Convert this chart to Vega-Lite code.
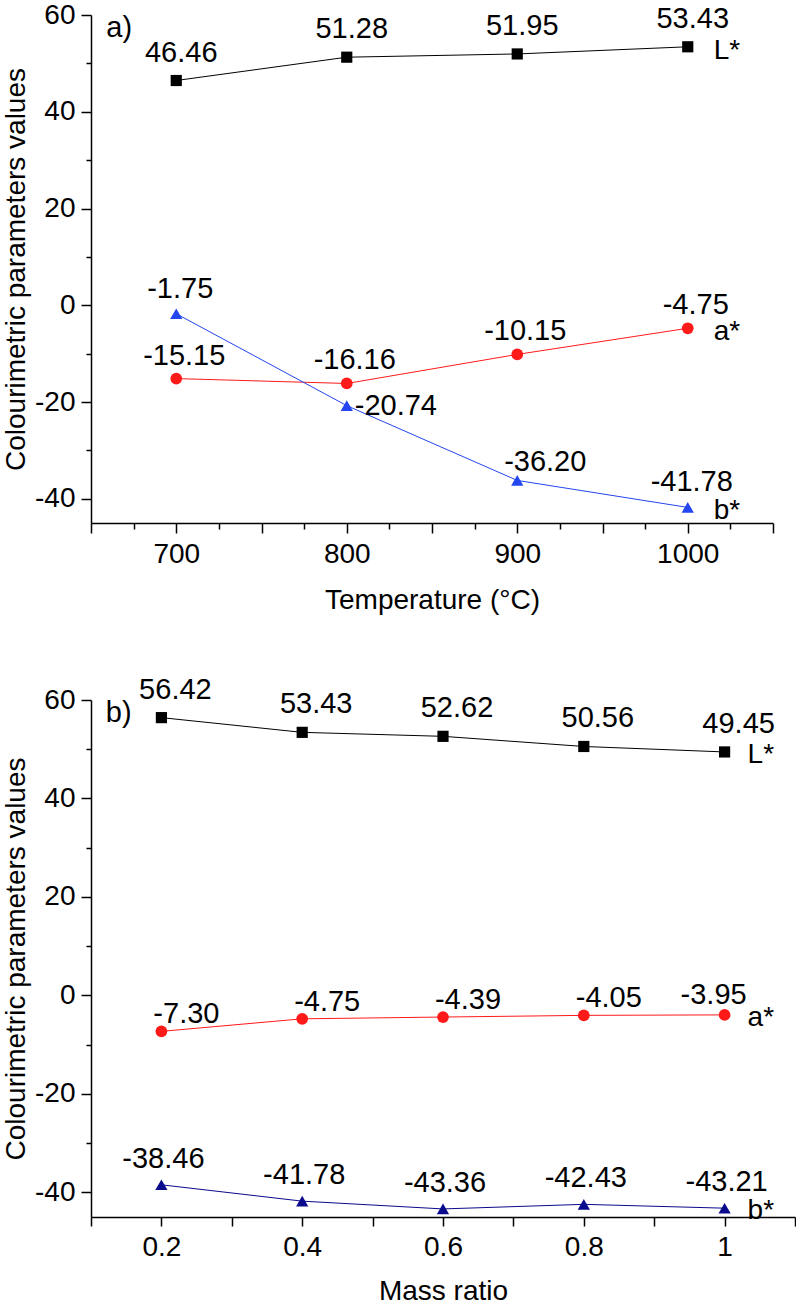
{
  "$schema": "https://vega.github.io/schema/vega-lite/v6.json",
  "padding": {"left": 2, "top": 1, "right": 0, "bottom": 0},
  "background": "white",
  "spacing": 177,
  "bounds": "flush",
  "datasets": {
    "temp": [
      {"T": 700, "series": "L*", "v": 46.46},
      {"T": 800, "series": "L*", "v": 51.28},
      {"T": 900, "series": "L*", "v": 51.95},
      {"T": 1000, "series": "L*", "v": 53.43},
      {"T": 700, "series": "a*", "v": -15.15},
      {"T": 800, "series": "a*", "v": -16.16},
      {"T": 900, "series": "a*", "v": -10.15},
      {"T": 1000, "series": "a*", "v": -4.75},
      {"T": 700, "series": "b*", "v": -1.75},
      {"T": 800, "series": "b*", "v": -20.74},
      {"T": 900, "series": "b*", "v": -36.2},
      {"T": 1000, "series": "b*", "v": -41.78}
    ],
    "mass": [
      {"r": 0.2, "series": "L*", "v": 56.42},
      {"r": 0.4, "series": "L*", "v": 53.43},
      {"r": 0.6, "series": "L*", "v": 52.62},
      {"r": 0.8, "series": "L*", "v": 50.56},
      {"r": 1, "series": "L*", "v": 49.45},
      {"r": 0.2, "series": "a*", "v": -7.3},
      {"r": 0.4, "series": "a*", "v": -4.75},
      {"r": 0.6, "series": "a*", "v": -4.39},
      {"r": 0.8, "series": "a*", "v": -4.05},
      {"r": 1, "series": "a*", "v": -3.95},
      {"r": 0.2, "series": "b*", "v": -38.46},
      {"r": 0.4, "series": "b*", "v": -41.78},
      {"r": 0.6, "series": "b*", "v": -43.36},
      {"r": 0.8, "series": "b*", "v": -42.43},
      {"r": 1, "series": "b*", "v": -43.21}
    ]
  },
  "vconcat": [
    {
      "width": 682,
      "height": 508,
      "data": {"name": "temp"},
      "encoding": {
        "x": {
          "field": "T",
          "type": "quantitative",
          "title": "Temperature (°C)",
          "scale": {"domain": [650, 1050], "nice": false, "zero": false},
          "axis": {
            "values": [650, 675, 700, 725, 750, 775, 800, 825, 850, 875, 900, 925, 950, 975, 1000, 1025, 1050],
            "format": "d",
            "labelExpr": "datum.value % 100 == 0 && datum.value >= 700 && datum.value <= 1000 ? datum.label : ''",
            "tickSize": {"condition": {"test": "datum.value % 50 == 0", "value": 10}, "value": 6},
            "labelPadding": 7,
            "titlePadding": 18
          }
        },
        "y": {
          "field": "v",
          "type": "quantitative",
          "title": "Colourimetric parameters values",
          "scale": {"domain": [-45, 60], "nice": false, "zero": false},
          "axis": {
            "values": [-40, -30, -20, -10, 0, 10, 20, 30, 40, 50, 60],
            "format": "d",
            "labelExpr": "datum.value % 20 == 0 ? datum.label : ''",
            "tickSize": {"condition": {"test": "datum.value % 20 == 0", "value": 10}, "value": 5},
            "labelPadding": 6,
            "titlePadding": 4
          }
        },
        "color": {
          "field": "series",
          "type": "nominal",
          "scale": {"domain": ["L*", "a*", "b*"], "range": ["#000000", "#ff1a1a", "#2346f0"]},
          "legend": null
        }
      },
      "layer": [
        {"mark": {"type": "line", "strokeWidth": 1}},
        {
          "mark": {"type": "point", "filled": true, "opacity": 1},
          "encoding": {
            "shape": {"field": "series", "type": "nominal", "scale": {"domain": ["L*", "a*", "b*"], "range": ["square", "circle", "triangle-up"]}, "legend": null},
            "size": {"field": "series", "type": "ordinal", "scale": {"domain": ["L*", "a*", "b*"], "range": [125, 150, 300]}, "legend": null}
          }
        },
        {
          "transform": [{"filter": "datum.series == 'L*'"}],
          "mark": {"type": "text", "fontSize": 29, "dx": 5, "dy": -28},
          "encoding": {"text": {"field": "v", "format": ".2f"}, "color": {"value": "black"}}
        },
        {
          "transform": [{"filter": "datum.series == 'a*'"}],
          "mark": {"type": "text", "fontSize": 29, "dx": 8, "dy": -23},
          "encoding": {"text": {"field": "v", "format": ".2f"}, "color": {"value": "black"}}
        },
        {
          "transform": [{"filter": "datum.series == 'b*' && (datum.T == 700 || datum.T == 1000)"}],
          "mark": {"type": "text", "fontSize": 29, "dx": 4, "dy": -25},
          "encoding": {"text": {"field": "v", "format": ".2f"}, "color": {"value": "black"}}
        },
        {
          "transform": [{"filter": "datum.series == 'b*' && datum.T == 800"}],
          "mark": {"type": "text", "fontSize": 29, "align": "left", "dx": 8, "dy": 0},
          "encoding": {"text": {"field": "v", "format": ".2f"}, "color": {"value": "black"}}
        },
        {
          "transform": [{"filter": "datum.series == 'b*' && datum.T == 900"}],
          "mark": {"type": "text", "fontSize": 29, "dx": 28, "dy": -18},
          "encoding": {"text": {"field": "v", "format": ".2f"}, "color": {"value": "black"}}
        },
        {
          "transform": [{"filter": "datum.T == 1000"}],
          "mark": {"type": "text", "fontSize": 28, "align": "left", "dx": 26, "dy": 4},
          "encoding": {"text": {"field": "series"}, "color": {"value": "black"}}
        },
        {
          "transform": [{"filter": "datum.series == 'L*' && datum.T == 700"}],
          "mark": {"type": "text", "fontSize": 29, "align": "left"},
          "encoding": {
            "x": {"datum": 659},
            "y": {"datum": 57.4},
            "text": {"value": "a)"},
            "color": {"value": "black"}
          }
        }
      ]
    },
    {
      "width": 704,
      "height": 517,
      "data": {"name": "mass"},
      "encoding": {
        "x": {
          "field": "r",
          "type": "quantitative",
          "title": "Mass ratio",
          "scale": {"domain": [0.1, 1.1], "nice": false, "zero": false},
          "axis": {
            "values": [0.1, 0.2, 0.3, 0.4, 0.5, 0.6, 0.7, 0.8, 0.9, 1, 1.1],
            "format": ".1~f",
            "labelExpr": "datum.value == 0.2 || datum.value == 0.4 || datum.value == 0.6 || datum.value == 0.8 || datum.value == 1 ? datum.label : ''",
            "tickSize": 9,
            "labelPadding": 7,
            "titlePadding": 16
          }
        },
        "y": {
          "field": "v",
          "type": "quantitative",
          "title": "Colourimetric parameters values",
          "scale": {"domain": [-45, 60], "nice": false, "zero": false},
          "axis": {
            "values": [-40, -30, -20, -10, 0, 10, 20, 30, 40, 50, 60],
            "format": "d",
            "labelExpr": "datum.value % 20 == 0 ? datum.label : ''",
            "tickSize": {"condition": {"test": "datum.value % 20 == 0", "value": 10}, "value": 5},
            "labelPadding": 6,
            "titlePadding": 4
          }
        },
        "color": {
          "field": "series",
          "type": "nominal",
          "scale": {"domain": ["L*", "a*", "b*"], "range": ["#000000", "#ff1a1a", "#0a0a8c"]},
          "legend": null
        }
      },
      "layer": [
        {"mark": {"type": "line", "strokeWidth": 1}},
        {
          "mark": {"type": "point", "filled": true, "opacity": 1},
          "encoding": {
            "shape": {"field": "series", "type": "nominal", "scale": {"domain": ["L*", "a*", "b*"], "range": ["square", "circle", "triangle-up"]}, "legend": null},
            "size": {"field": "series", "type": "ordinal", "scale": {"domain": ["L*", "a*", "b*"], "range": [125, 150, 260]}, "legend": null}
          }
        },
        {
          "transform": [{"filter": "datum.series == 'L*'"}],
          "mark": {"type": "text", "fontSize": 29, "dx": 14, "dy": -28},
          "encoding": {"text": {"field": "v", "format": ".2f"}, "color": {"value": "black"}}
        },
        {
          "transform": [{"filter": "datum.series == 'a*' && datum.r < 1"}],
          "mark": {"type": "text", "fontSize": 29, "dx": 25, "dy": -17},
          "encoding": {"text": {"field": "v", "format": ".2f"}, "color": {"value": "black"}}
        },
        {
          "transform": [{"filter": "datum.series == 'a*' && datum.r == 1"}],
          "mark": {"type": "text", "fontSize": 29, "dx": -11, "dy": -20},
          "encoding": {"text": {"field": "v", "format": ".2f"}, "color": {"value": "black"}}
        },
        {
          "transform": [{"filter": "datum.series == 'b*'"}],
          "mark": {"type": "text", "fontSize": 29, "dx": 2, "dy": -26},
          "encoding": {"text": {"field": "v", "format": ".2f"}, "color": {"value": "black"}}
        },
        {
          "transform": [{"filter": "datum.r == 1"}],
          "mark": {"type": "text", "fontSize": 28, "align": "left", "dx": 23, "dy": 3},
          "encoding": {"text": {"field": "series"}, "color": {"value": "black"}}
        },
        {
          "transform": [{"filter": "datum.series == 'L*' && datum.r == 0.2"}],
          "mark": {"type": "text", "fontSize": 29, "align": "left"},
          "encoding": {
            "x": {"datum": 0.121},
            "y": {"datum": 57.4},
            "text": {"value": "b)"},
            "color": {"value": "black"}
          }
        }
      ]
    }
  ],
  "resolve": {"scale": {"color": "independent", "shape": "independent", "size": "independent"}},
  "config": {
    "font": "Liberation Sans",
    "view": {"stroke": null},
    "locale": {"number": {"decimal": ".", "thousands": ",", "grouping": [3], "currency": ["$", ""], "minus": "-"}},
    "text": {"font": "Liberation Sans"},
    "axis": {
      "grid": false,
      "domainColor": "black",
      "domainWidth": 1.5,
      "tickColor": "black",
      "tickWidth": 1.5,
      "labelFont": "Liberation Sans",
      "labelFontSize": 28,
      "labelColor": "black",
      "labelFlush": false,
      "labelOverlap": false,
      "titleFont": "Liberation Sans",
      "titleFontSize": 28,
      "titleFontWeight": "normal",
      "titleColor": "black"
    }
  }
}
